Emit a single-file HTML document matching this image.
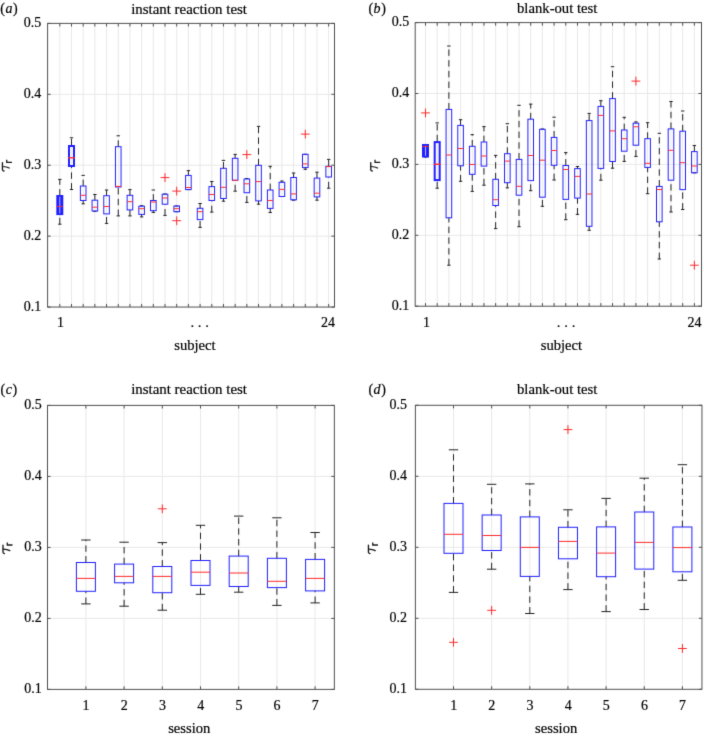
<!DOCTYPE html>
<html><head><meta charset="utf-8"><style>
html,body{margin:0;padding:0;background:#fff;width:704px;height:736px;overflow:hidden}
svg{display:block}
text{font-family:"Liberation Serif",serif;fill:#000;stroke:#000;stroke-width:0.2px;}
</style></head><body>
<svg width="704" height="736" viewBox="0 0 704 736">
<defs><filter id="bl" filterUnits="userSpaceOnUse" x="0" y="0" width="704" height="736" color-interpolation-filters="sRGB"><feConvolveMatrix order="3" kernelMatrix="0.01134 0.08382 0.01134 0.08382 0.61935 0.08382 0.01134 0.08382 0.01134" edgeMode="duplicate" preserveAlpha="true"/></filter></defs><g filter="url(#bl)">
<rect width="704" height="736" fill="#fff"/>
<g fill="none" stroke-width="1">
<line x1="59.8" y1="23.4" x2="59.8" y2="307.05" stroke="#e8e8e8"/>
<line x1="71.49" y1="23.4" x2="71.49" y2="307.05" stroke="#e8e8e8"/>
<line x1="83.18" y1="23.4" x2="83.18" y2="307.05" stroke="#e8e8e8"/>
<line x1="94.87" y1="23.4" x2="94.87" y2="307.05" stroke="#e8e8e8"/>
<line x1="106.56" y1="23.4" x2="106.56" y2="307.05" stroke="#e8e8e8"/>
<line x1="118.25" y1="23.4" x2="118.25" y2="307.05" stroke="#e8e8e8"/>
<line x1="129.94" y1="23.4" x2="129.94" y2="307.05" stroke="#e8e8e8"/>
<line x1="141.63" y1="23.4" x2="141.63" y2="307.05" stroke="#e8e8e8"/>
<line x1="153.32" y1="23.4" x2="153.32" y2="307.05" stroke="#e8e8e8"/>
<line x1="165.01" y1="23.4" x2="165.01" y2="307.05" stroke="#e8e8e8"/>
<line x1="176.7" y1="23.4" x2="176.7" y2="307.05" stroke="#e8e8e8"/>
<line x1="188.39" y1="23.4" x2="188.39" y2="307.05" stroke="#e8e8e8"/>
<line x1="200.08" y1="23.4" x2="200.08" y2="307.05" stroke="#e8e8e8"/>
<line x1="211.77" y1="23.4" x2="211.77" y2="307.05" stroke="#e8e8e8"/>
<line x1="223.46" y1="23.4" x2="223.46" y2="307.05" stroke="#e8e8e8"/>
<line x1="235.15" y1="23.4" x2="235.15" y2="307.05" stroke="#e8e8e8"/>
<line x1="246.84" y1="23.4" x2="246.84" y2="307.05" stroke="#e8e8e8"/>
<line x1="258.53" y1="23.4" x2="258.53" y2="307.05" stroke="#e8e8e8"/>
<line x1="270.22" y1="23.4" x2="270.22" y2="307.05" stroke="#e8e8e8"/>
<line x1="281.91" y1="23.4" x2="281.91" y2="307.05" stroke="#e8e8e8"/>
<line x1="293.6" y1="23.4" x2="293.6" y2="307.05" stroke="#e8e8e8"/>
<line x1="305.29" y1="23.4" x2="305.29" y2="307.05" stroke="#e8e8e8"/>
<line x1="316.98" y1="23.4" x2="316.98" y2="307.05" stroke="#e8e8e8"/>
<line x1="328.67" y1="23.4" x2="328.67" y2="307.05" stroke="#e8e8e8"/>
<line x1="47.6" y1="236.14" x2="334.5" y2="236.14" stroke="#e8e8e8"/>
<line x1="47.6" y1="165.23" x2="334.5" y2="165.23" stroke="#e8e8e8"/>
<line x1="47.6" y1="94.31" x2="334.5" y2="94.31" stroke="#e8e8e8"/>
<line x1="59.8" y1="195.5" x2="59.8" y2="179.4" stroke="#222" stroke-dasharray="6.4,4.3"/>
<line x1="59.8" y1="224.2" x2="59.8" y2="214.6" stroke="#222" stroke-dasharray="6.4,4.3"/>
<path d="M58.1 179.4H61.5M58.1 224.2H61.5" stroke="#222"/>
<rect x="56.3" y="195" width="7" height="20.1" fill="#2020ff" stroke="none"/>
<line x1="59.8" y1="196.7" x2="59.8" y2="213.4" stroke="#c4c4ff" stroke-width="0.9"/>
<line x1="57" y1="206.4" x2="62.6" y2="206.4" stroke="#ff2a2a"/>
<line x1="71.49" y1="145.1" x2="71.49" y2="137.8" stroke="#222" stroke-dasharray="6.4,4.3"/>
<line x1="71.49" y1="189.5" x2="71.49" y2="166.9" stroke="#222" stroke-dasharray="6.4,4.3"/>
<path d="M69.79 137.8H73.19M69.79 189.5H73.19" stroke="#222"/>
<rect x="68.99" y="146" width="5" height="20" fill="none" stroke="#2020ff" stroke-width="2"/>
<line x1="68.09" y1="157.8" x2="74.89" y2="157.8" stroke="#ff2a2a" stroke-width="1.4"/>
<line x1="83.18" y1="186" x2="83.18" y2="175.4" stroke="#222" stroke-dasharray="6.4,4.3"/>
<line x1="83.18" y1="203.8" x2="83.18" y2="200.5" stroke="#222" stroke-dasharray="6.4,4.3"/>
<path d="M81.48 175.4H84.88M81.48 203.8H84.88" stroke="#222"/>
<rect x="80.38" y="186" width="5.6" height="14.5" fill="none" stroke="#2020ff" stroke-width="1"/>
<line x1="80.38" y1="195.3" x2="85.98" y2="195.3" stroke="#ff2a2a"/>
<line x1="94.87" y1="200.2" x2="94.87" y2="194.5" stroke="#222" stroke-dasharray="6.4,4.3"/>
<path d="M93.17 194.5H96.57M93.17 211.4H96.57" stroke="#222"/>
<rect x="92.07" y="200.2" width="5.6" height="10.8" fill="none" stroke="#2020ff" stroke-width="1"/>
<line x1="92.07" y1="207.2" x2="97.67" y2="207.2" stroke="#ff2a2a"/>
<line x1="106.56" y1="195.7" x2="106.56" y2="190" stroke="#222" stroke-dasharray="6.4,4.3"/>
<line x1="106.56" y1="223.4" x2="106.56" y2="213.9" stroke="#222" stroke-dasharray="6.4,4.3"/>
<path d="M104.86 190H108.26M104.86 223.4H108.26" stroke="#222"/>
<rect x="103.76" y="195.7" width="5.6" height="18.2" fill="none" stroke="#2020ff" stroke-width="1"/>
<line x1="103.76" y1="206.5" x2="109.36" y2="206.5" stroke="#ff2a2a"/>
<line x1="118.25" y1="146.7" x2="118.25" y2="135.8" stroke="#222" stroke-dasharray="6.4,4.3"/>
<line x1="118.25" y1="215.9" x2="118.25" y2="187" stroke="#222" stroke-dasharray="6.4,4.3"/>
<path d="M116.55 135.8H119.95M116.55 215.9H119.95" stroke="#222"/>
<rect x="115.45" y="146.7" width="5.6" height="40.3" fill="none" stroke="#2020ff" stroke-width="1"/>
<line x1="115.45" y1="186.4" x2="121.05" y2="186.4" stroke="#ff2a2a"/>
<line x1="129.94" y1="195.3" x2="129.94" y2="189.6" stroke="#222" stroke-dasharray="6.4,4.3"/>
<line x1="129.94" y1="215.9" x2="129.94" y2="209.9" stroke="#222" stroke-dasharray="6.4,4.3"/>
<path d="M128.24 189.6H131.64M128.24 215.9H131.64" stroke="#222"/>
<rect x="127.14" y="195.3" width="5.6" height="14.6" fill="none" stroke="#2020ff" stroke-width="1"/>
<line x1="127.14" y1="201.7" x2="132.74" y2="201.7" stroke="#ff2a2a"/>
<line x1="141.63" y1="216.9" x2="141.63" y2="214.4" stroke="#222" stroke-dasharray="6.4,4.3"/>
<path d="M139.93 205.7H143.33M139.93 216.9H143.33" stroke="#222"/>
<rect x="138.83" y="206.2" width="5.6" height="8.2" fill="none" stroke="#2020ff" stroke-width="1"/>
<line x1="138.83" y1="208.7" x2="144.43" y2="208.7" stroke="#ff2a2a"/>
<line x1="153.32" y1="200.5" x2="153.32" y2="190" stroke="#222" stroke-dasharray="6.4,4.3"/>
<line x1="153.32" y1="212.4" x2="153.32" y2="210.7" stroke="#222" stroke-dasharray="6.4,4.3"/>
<path d="M151.62 190H155.02M151.62 212.4H155.02" stroke="#222"/>
<rect x="150.52" y="200.5" width="5.6" height="10.2" fill="none" stroke="#2020ff" stroke-width="1"/>
<line x1="150.52" y1="202" x2="156.12" y2="202" stroke="#ff2a2a"/>
<line x1="165.01" y1="215.4" x2="165.01" y2="204.2" stroke="#222" stroke-dasharray="6.4,4.3"/>
<path d="M163.31 194H166.71M163.31 215.4H166.71" stroke="#222"/>
<rect x="162.21" y="194.2" width="5.6" height="10" fill="none" stroke="#2020ff" stroke-width="1"/>
<line x1="162.21" y1="198" x2="167.81" y2="198" stroke="#ff2a2a"/>
<path d="M160.61 177.6H169.41M165.01 173.2V182" stroke="#ff2a2a"/>
<path d="M175 206H178.4M175 211.7H178.4" stroke="#222"/>
<rect x="173.9" y="206" width="5.6" height="5.7" fill="none" stroke="#2020ff" stroke-width="1"/>
<line x1="173.9" y1="208.7" x2="179.5" y2="208.7" stroke="#ff2a2a"/>
<path d="M172.3 191.1H181.1M176.7 186.7V195.5" stroke="#ff2a2a"/>
<path d="M172.3 220.7H181.1M176.7 216.3V225.1" stroke="#ff2a2a"/>
<line x1="188.39" y1="175.4" x2="188.39" y2="170.6" stroke="#222" stroke-dasharray="6.4,4.3"/>
<path d="M186.69 170.6H190.09M186.69 189.6H190.09" stroke="#222"/>
<rect x="185.59" y="175.4" width="5.6" height="14.2" fill="none" stroke="#2020ff" stroke-width="1"/>
<line x1="185.59" y1="187.5" x2="191.19" y2="187.5" stroke="#ff2a2a"/>
<line x1="200.08" y1="208.3" x2="200.08" y2="203.5" stroke="#222" stroke-dasharray="6.4,4.3"/>
<line x1="200.08" y1="227.4" x2="200.08" y2="219.6" stroke="#222" stroke-dasharray="6.4,4.3"/>
<path d="M198.38 203.5H201.78M198.38 227.4H201.78" stroke="#222"/>
<rect x="197.28" y="208.3" width="5.6" height="11.3" fill="none" stroke="#2020ff" stroke-width="1"/>
<line x1="197.28" y1="211.7" x2="202.88" y2="211.7" stroke="#ff2a2a"/>
<line x1="211.77" y1="186.6" x2="211.77" y2="181.5" stroke="#222" stroke-dasharray="6.4,4.3"/>
<line x1="211.77" y1="212.1" x2="211.77" y2="200.5" stroke="#222" stroke-dasharray="6.4,4.3"/>
<path d="M210.07 181.5H213.47M210.07 212.1H213.47" stroke="#222"/>
<rect x="208.97" y="186.6" width="5.6" height="13.9" fill="none" stroke="#2020ff" stroke-width="1"/>
<line x1="208.97" y1="194.5" x2="214.57" y2="194.5" stroke="#ff2a2a"/>
<line x1="223.46" y1="168.3" x2="223.46" y2="160.4" stroke="#222" stroke-dasharray="6.4,4.3"/>
<line x1="223.46" y1="201.2" x2="223.46" y2="198.5" stroke="#222" stroke-dasharray="6.4,4.3"/>
<path d="M221.76 160.4H225.16M221.76 201.2H225.16" stroke="#222"/>
<rect x="220.66" y="168.3" width="5.6" height="30.2" fill="none" stroke="#2020ff" stroke-width="1"/>
<line x1="220.66" y1="187.3" x2="226.26" y2="187.3" stroke="#ff2a2a"/>
<line x1="235.15" y1="158.3" x2="235.15" y2="154.4" stroke="#222" stroke-dasharray="6.4,4.3"/>
<line x1="235.15" y1="191.2" x2="235.15" y2="180.3" stroke="#222" stroke-dasharray="6.4,4.3"/>
<path d="M233.45 154.4H236.85M233.45 191.2H236.85" stroke="#222"/>
<rect x="232.35" y="158.3" width="5.6" height="22" fill="none" stroke="#2020ff" stroke-width="1"/>
<line x1="232.35" y1="180.3" x2="237.95" y2="180.3" stroke="#ff2a2a"/>
<line x1="246.84" y1="202.4" x2="246.84" y2="192.7" stroke="#222" stroke-dasharray="6.4,4.3"/>
<path d="M245.14 178.5H248.54M245.14 202.4H248.54" stroke="#222"/>
<rect x="244.04" y="179" width="5.6" height="13.7" fill="none" stroke="#2020ff" stroke-width="1"/>
<line x1="244.04" y1="183.8" x2="249.64" y2="183.8" stroke="#ff2a2a"/>
<path d="M242.44 154.6H251.24M246.84 150.2V159" stroke="#ff2a2a"/>
<line x1="258.53" y1="165.3" x2="258.53" y2="126.4" stroke="#222" stroke-dasharray="6.4,4.3"/>
<line x1="258.53" y1="204.2" x2="258.53" y2="200.9" stroke="#222" stroke-dasharray="6.4,4.3"/>
<path d="M256.83 126.4H260.23M256.83 204.2H260.23" stroke="#222"/>
<rect x="255.73" y="165.3" width="5.6" height="35.6" fill="none" stroke="#2020ff" stroke-width="1"/>
<line x1="255.73" y1="181.6" x2="261.33" y2="181.6" stroke="#ff2a2a"/>
<line x1="270.22" y1="190" x2="270.22" y2="166.3" stroke="#222" stroke-dasharray="6.4,4.3"/>
<line x1="270.22" y1="212.5" x2="270.22" y2="208.4" stroke="#222" stroke-dasharray="6.4,4.3"/>
<path d="M268.52 166.3H271.92M268.52 212.5H271.92" stroke="#222"/>
<rect x="267.42" y="190" width="5.6" height="18.4" fill="none" stroke="#2020ff" stroke-width="1"/>
<line x1="267.42" y1="200.5" x2="273.02" y2="200.5" stroke="#ff2a2a"/>
<line x1="281.91" y1="182.3" x2="281.91" y2="181" stroke="#222" stroke-dasharray="6.4,4.3"/>
<path d="M280.21 181H283.61M280.21 196.5H283.61" stroke="#222"/>
<rect x="279.11" y="182.3" width="5.6" height="14.2" fill="none" stroke="#2020ff" stroke-width="1"/>
<line x1="279.11" y1="189.4" x2="284.71" y2="189.4" stroke="#ff2a2a"/>
<line x1="293.6" y1="177.5" x2="293.6" y2="173" stroke="#222" stroke-dasharray="6.4,4.3"/>
<path d="M291.9 173H295.3M291.9 200.2H295.3" stroke="#222"/>
<rect x="290.8" y="177.5" width="5.6" height="22.3" fill="none" stroke="#2020ff" stroke-width="1"/>
<line x1="290.8" y1="193.9" x2="296.4" y2="193.9" stroke="#ff2a2a"/>
<line x1="305.29" y1="169.3" x2="305.29" y2="167.6" stroke="#222" stroke-dasharray="6.4,4.3"/>
<path d="M303.59 154.3H306.99M303.59 169.3H306.99" stroke="#222"/>
<rect x="302.49" y="154.3" width="5.6" height="13.3" fill="none" stroke="#2020ff" stroke-width="1"/>
<line x1="302.49" y1="163.9" x2="308.09" y2="163.9" stroke="#ff2a2a"/>
<path d="M300.89 134.1H309.69M305.29 129.7V138.5" stroke="#ff2a2a"/>
<line x1="316.98" y1="178.1" x2="316.98" y2="172.2" stroke="#222" stroke-dasharray="6.4,4.3"/>
<line x1="316.98" y1="200.2" x2="316.98" y2="196.9" stroke="#222" stroke-dasharray="6.4,4.3"/>
<path d="M315.28 172.2H318.68M315.28 200.2H318.68" stroke="#222"/>
<rect x="314.18" y="178.1" width="5.6" height="18.8" fill="none" stroke="#2020ff" stroke-width="1"/>
<line x1="314.18" y1="193.2" x2="319.78" y2="193.2" stroke="#ff2a2a"/>
<line x1="328.67" y1="166.3" x2="328.67" y2="159.4" stroke="#222" stroke-dasharray="6.4,4.3"/>
<line x1="328.67" y1="188.2" x2="328.67" y2="177" stroke="#222" stroke-dasharray="6.4,4.3"/>
<path d="M326.97 159.4H330.37M326.97 188.2H330.37" stroke="#222"/>
<rect x="325.87" y="166.3" width="5.6" height="10.7" fill="none" stroke="#2020ff" stroke-width="1"/>
<line x1="325.87" y1="166.6" x2="331.47" y2="166.6" stroke="#ff2a2a"/>
<rect x="47.6" y="23.4" width="286.9" height="283.65" fill="none" stroke="#505050"/>
<path d="M59.8 307.05V303.95M59.8 23.4V26.5M71.49 307.05V303.95M71.49 23.4V26.5M83.18 307.05V303.95M83.18 23.4V26.5M94.87 307.05V303.95M94.87 23.4V26.5M106.56 307.05V303.95M106.56 23.4V26.5M118.25 307.05V303.95M118.25 23.4V26.5M129.94 307.05V303.95M129.94 23.4V26.5M141.63 307.05V303.95M141.63 23.4V26.5M153.32 307.05V303.95M153.32 23.4V26.5M165.01 307.05V303.95M165.01 23.4V26.5M176.7 307.05V303.95M176.7 23.4V26.5M188.39 307.05V303.95M188.39 23.4V26.5M200.08 307.05V303.95M200.08 23.4V26.5M211.77 307.05V303.95M211.77 23.4V26.5M223.46 307.05V303.95M223.46 23.4V26.5M235.15 307.05V303.95M235.15 23.4V26.5M246.84 307.05V303.95M246.84 23.4V26.5M258.53 307.05V303.95M258.53 23.4V26.5M270.22 307.05V303.95M270.22 23.4V26.5M281.91 307.05V303.95M281.91 23.4V26.5M293.6 307.05V303.95M293.6 23.4V26.5M305.29 307.05V303.95M305.29 23.4V26.5M316.98 307.05V303.95M316.98 23.4V26.5M328.67 307.05V303.95M328.67 23.4V26.5M47.6 307.05H50.7M334.5 307.05H331.4M47.6 236.14H50.7M334.5 236.14H331.4M47.6 165.23H50.7M334.5 165.23H331.4M47.6 94.31H50.7M334.5 94.31H331.4M47.6 23.4H50.7M334.5 23.4H331.4" stroke="#505050" fill="none"/>
<line x1="425.5" y1="22.6" x2="425.5" y2="306.2" stroke="#e8e8e8"/>
<line x1="437.19" y1="22.6" x2="437.19" y2="306.2" stroke="#e8e8e8"/>
<line x1="448.88" y1="22.6" x2="448.88" y2="306.2" stroke="#e8e8e8"/>
<line x1="460.57" y1="22.6" x2="460.57" y2="306.2" stroke="#e8e8e8"/>
<line x1="472.26" y1="22.6" x2="472.26" y2="306.2" stroke="#e8e8e8"/>
<line x1="483.95" y1="22.6" x2="483.95" y2="306.2" stroke="#e8e8e8"/>
<line x1="495.64" y1="22.6" x2="495.64" y2="306.2" stroke="#e8e8e8"/>
<line x1="507.33" y1="22.6" x2="507.33" y2="306.2" stroke="#e8e8e8"/>
<line x1="519.02" y1="22.6" x2="519.02" y2="306.2" stroke="#e8e8e8"/>
<line x1="530.71" y1="22.6" x2="530.71" y2="306.2" stroke="#e8e8e8"/>
<line x1="542.4" y1="22.6" x2="542.4" y2="306.2" stroke="#e8e8e8"/>
<line x1="554.09" y1="22.6" x2="554.09" y2="306.2" stroke="#e8e8e8"/>
<line x1="565.78" y1="22.6" x2="565.78" y2="306.2" stroke="#e8e8e8"/>
<line x1="577.47" y1="22.6" x2="577.47" y2="306.2" stroke="#e8e8e8"/>
<line x1="589.16" y1="22.6" x2="589.16" y2="306.2" stroke="#e8e8e8"/>
<line x1="600.85" y1="22.6" x2="600.85" y2="306.2" stroke="#e8e8e8"/>
<line x1="612.54" y1="22.6" x2="612.54" y2="306.2" stroke="#e8e8e8"/>
<line x1="624.23" y1="22.6" x2="624.23" y2="306.2" stroke="#e8e8e8"/>
<line x1="635.92" y1="22.6" x2="635.92" y2="306.2" stroke="#e8e8e8"/>
<line x1="647.61" y1="22.6" x2="647.61" y2="306.2" stroke="#e8e8e8"/>
<line x1="659.3" y1="22.6" x2="659.3" y2="306.2" stroke="#e8e8e8"/>
<line x1="670.99" y1="22.6" x2="670.99" y2="306.2" stroke="#e8e8e8"/>
<line x1="682.68" y1="22.6" x2="682.68" y2="306.2" stroke="#e8e8e8"/>
<line x1="694.37" y1="22.6" x2="694.37" y2="306.2" stroke="#e8e8e8"/>
<line x1="415.2" y1="235.3" x2="701.5" y2="235.3" stroke="#e8e8e8"/>
<line x1="415.2" y1="164.4" x2="701.5" y2="164.4" stroke="#e8e8e8"/>
<line x1="415.2" y1="93.5" x2="701.5" y2="93.5" stroke="#e8e8e8"/>
<path d="M423.8 144.5H427.2M423.8 157H427.2" stroke="#222"/>
<rect x="422" y="144" width="7" height="13.5" fill="#2020ff" stroke="none"/>
<line x1="425.5" y1="145.7" x2="425.5" y2="155.8" stroke="#c4c4ff" stroke-width="0.9"/>
<line x1="422.7" y1="146.5" x2="428.3" y2="146.5" stroke="#ff2a2a"/>
<path d="M421.1 112.9H429.9M425.5 108.5V117.3" stroke="#ff2a2a"/>
<line x1="437.19" y1="141.2" x2="437.19" y2="122.9" stroke="#222" stroke-dasharray="6.4,4.3"/>
<line x1="437.19" y1="188.2" x2="437.19" y2="181" stroke="#222" stroke-dasharray="6.4,4.3"/>
<path d="M435.49 122.9H438.89M435.49 188.2H438.89" stroke="#222"/>
<rect x="434.69" y="142.1" width="5" height="38" fill="none" stroke="#2020ff" stroke-width="2"/>
<line x1="433.79" y1="164.3" x2="440.59" y2="164.3" stroke="#ff2a2a" stroke-width="1.4"/>
<line x1="448.88" y1="109.4" x2="448.88" y2="46" stroke="#222" stroke-dasharray="6.4,4.3"/>
<line x1="448.88" y1="265.2" x2="448.88" y2="217.8" stroke="#222" stroke-dasharray="6.4,4.3"/>
<path d="M447.18 46H450.58M447.18 265.2H450.58" stroke="#222"/>
<rect x="446.08" y="109.4" width="5.6" height="108.4" fill="none" stroke="#2020ff" stroke-width="1"/>
<line x1="446.08" y1="155" x2="451.68" y2="155" stroke="#ff2a2a"/>
<line x1="460.57" y1="125.4" x2="460.57" y2="119.7" stroke="#222" stroke-dasharray="6.4,4.3"/>
<line x1="460.57" y1="181.3" x2="460.57" y2="165.8" stroke="#222" stroke-dasharray="6.4,4.3"/>
<path d="M458.87 119.7H462.27M458.87 181.3H462.27" stroke="#222"/>
<rect x="457.77" y="125.4" width="5.6" height="40.4" fill="none" stroke="#2020ff" stroke-width="1"/>
<line x1="457.77" y1="148.5" x2="463.37" y2="148.5" stroke="#ff2a2a"/>
<line x1="472.26" y1="146.3" x2="472.26" y2="134.7" stroke="#222" stroke-dasharray="6.4,4.3"/>
<line x1="472.26" y1="191.4" x2="472.26" y2="174.3" stroke="#222" stroke-dasharray="6.4,4.3"/>
<path d="M470.56 134.7H473.96M470.56 191.4H473.96" stroke="#222"/>
<rect x="469.46" y="146.3" width="5.6" height="28" fill="none" stroke="#2020ff" stroke-width="1"/>
<line x1="469.46" y1="164.5" x2="475.06" y2="164.5" stroke="#ff2a2a"/>
<line x1="483.95" y1="142" x2="483.95" y2="126.6" stroke="#222" stroke-dasharray="6.4,4.3"/>
<line x1="483.95" y1="185.2" x2="483.95" y2="166.1" stroke="#222" stroke-dasharray="6.4,4.3"/>
<path d="M482.25 126.6H485.65M482.25 185.2H485.65" stroke="#222"/>
<rect x="481.15" y="142" width="5.6" height="24.1" fill="none" stroke="#2020ff" stroke-width="1"/>
<line x1="481.15" y1="156" x2="486.75" y2="156" stroke="#ff2a2a"/>
<line x1="495.64" y1="179.3" x2="495.64" y2="155.4" stroke="#222" stroke-dasharray="6.4,4.3"/>
<line x1="495.64" y1="228.6" x2="495.64" y2="205.5" stroke="#222" stroke-dasharray="6.4,4.3"/>
<path d="M493.94 155.4H497.34M493.94 228.6H497.34" stroke="#222"/>
<rect x="492.84" y="179.3" width="5.6" height="26.2" fill="none" stroke="#2020ff" stroke-width="1"/>
<line x1="492.84" y1="199.7" x2="498.44" y2="199.7" stroke="#ff2a2a"/>
<line x1="507.33" y1="153.7" x2="507.33" y2="123.7" stroke="#222" stroke-dasharray="6.4,4.3"/>
<line x1="507.33" y1="187.9" x2="507.33" y2="182.7" stroke="#222" stroke-dasharray="6.4,4.3"/>
<path d="M505.63 123.7H509.03M505.63 187.9H509.03" stroke="#222"/>
<rect x="504.53" y="153.7" width="5.6" height="29" fill="none" stroke="#2020ff" stroke-width="1"/>
<line x1="504.53" y1="161.1" x2="510.13" y2="161.1" stroke="#ff2a2a"/>
<line x1="519.02" y1="159.4" x2="519.02" y2="105.3" stroke="#222" stroke-dasharray="6.4,4.3"/>
<line x1="519.02" y1="226.7" x2="519.02" y2="195.2" stroke="#222" stroke-dasharray="6.4,4.3"/>
<path d="M517.32 105.3H520.72M517.32 226.7H520.72" stroke="#222"/>
<rect x="516.22" y="159.4" width="5.6" height="35.8" fill="none" stroke="#2020ff" stroke-width="1"/>
<line x1="516.22" y1="186.3" x2="521.82" y2="186.3" stroke="#ff2a2a"/>
<line x1="530.71" y1="119.2" x2="530.71" y2="104.1" stroke="#222" stroke-dasharray="6.4,4.3"/>
<line x1="530.71" y1="190.7" x2="530.71" y2="180.6" stroke="#222" stroke-dasharray="6.4,4.3"/>
<path d="M529.01 104.1H532.41M529.01 190.7H532.41" stroke="#222"/>
<rect x="527.91" y="119.2" width="5.6" height="61.4" fill="none" stroke="#2020ff" stroke-width="1"/>
<line x1="527.91" y1="155.5" x2="533.51" y2="155.5" stroke="#ff2a2a"/>
<line x1="542.4" y1="206.3" x2="542.4" y2="197.2" stroke="#222" stroke-dasharray="6.4,4.3"/>
<path d="M540.7 129H544.1M540.7 206.3H544.1" stroke="#222"/>
<rect x="539.6" y="129.3" width="5.6" height="67.9" fill="none" stroke="#2020ff" stroke-width="1"/>
<line x1="539.6" y1="160.2" x2="545.2" y2="160.2" stroke="#ff2a2a"/>
<line x1="554.09" y1="137.4" x2="554.09" y2="117.2" stroke="#222" stroke-dasharray="6.4,4.3"/>
<line x1="554.09" y1="180" x2="554.09" y2="165.3" stroke="#222" stroke-dasharray="6.4,4.3"/>
<path d="M552.39 117.2H555.79M552.39 180H555.79" stroke="#222"/>
<rect x="551.29" y="137.4" width="5.6" height="27.9" fill="none" stroke="#2020ff" stroke-width="1"/>
<line x1="551.29" y1="150.5" x2="556.89" y2="150.5" stroke="#ff2a2a"/>
<line x1="565.78" y1="165.5" x2="565.78" y2="152.6" stroke="#222" stroke-dasharray="6.4,4.3"/>
<line x1="565.78" y1="219.7" x2="565.78" y2="199.4" stroke="#222" stroke-dasharray="6.4,4.3"/>
<path d="M564.08 152.6H567.48M564.08 219.7H567.48" stroke="#222"/>
<rect x="562.98" y="165.5" width="5.6" height="33.9" fill="none" stroke="#2020ff" stroke-width="1"/>
<line x1="562.98" y1="169.5" x2="568.58" y2="169.5" stroke="#ff2a2a"/>
<line x1="577.47" y1="168.6" x2="577.47" y2="166.5" stroke="#222" stroke-dasharray="6.4,4.3"/>
<line x1="577.47" y1="214.4" x2="577.47" y2="198.1" stroke="#222" stroke-dasharray="6.4,4.3"/>
<path d="M575.77 166.5H579.17M575.77 214.4H579.17" stroke="#222"/>
<rect x="574.67" y="168.6" width="5.6" height="29.5" fill="none" stroke="#2020ff" stroke-width="1"/>
<line x1="574.67" y1="176.4" x2="580.27" y2="176.4" stroke="#ff2a2a"/>
<line x1="589.16" y1="120.6" x2="589.16" y2="113.4" stroke="#222" stroke-dasharray="6.4,4.3"/>
<line x1="589.16" y1="230.3" x2="589.16" y2="226.3" stroke="#222" stroke-dasharray="6.4,4.3"/>
<path d="M587.46 113.4H590.86M587.46 230.3H590.86" stroke="#222"/>
<rect x="586.36" y="120.6" width="5.6" height="105.7" fill="none" stroke="#2020ff" stroke-width="1"/>
<line x1="586.36" y1="194" x2="591.96" y2="194" stroke="#ff2a2a"/>
<line x1="600.85" y1="106.4" x2="600.85" y2="100.7" stroke="#222" stroke-dasharray="6.4,4.3"/>
<line x1="600.85" y1="180.2" x2="600.85" y2="168.4" stroke="#222" stroke-dasharray="6.4,4.3"/>
<path d="M599.15 100.7H602.55M599.15 180.2H602.55" stroke="#222"/>
<rect x="598.05" y="106.4" width="5.6" height="62" fill="none" stroke="#2020ff" stroke-width="1"/>
<line x1="598.05" y1="115.4" x2="603.65" y2="115.4" stroke="#ff2a2a"/>
<line x1="612.54" y1="98.6" x2="612.54" y2="66.7" stroke="#222" stroke-dasharray="6.4,4.3"/>
<line x1="612.54" y1="168.2" x2="612.54" y2="161.5" stroke="#222" stroke-dasharray="6.4,4.3"/>
<path d="M610.84 66.7H614.24M610.84 168.2H614.24" stroke="#222"/>
<rect x="609.74" y="98.6" width="5.6" height="62.9" fill="none" stroke="#2020ff" stroke-width="1"/>
<line x1="609.74" y1="130.9" x2="615.34" y2="130.9" stroke="#ff2a2a"/>
<line x1="624.23" y1="130" x2="624.23" y2="117.3" stroke="#222" stroke-dasharray="6.4,4.3"/>
<line x1="624.23" y1="161.4" x2="624.23" y2="151.2" stroke="#222" stroke-dasharray="6.4,4.3"/>
<path d="M622.53 117.3H625.93M622.53 161.4H625.93" stroke="#222"/>
<rect x="621.43" y="130" width="5.6" height="21.2" fill="none" stroke="#2020ff" stroke-width="1"/>
<line x1="621.43" y1="138.7" x2="627.03" y2="138.7" stroke="#ff2a2a"/>
<line x1="635.92" y1="123.2" x2="635.92" y2="121.9" stroke="#222" stroke-dasharray="6.4,4.3"/>
<line x1="635.92" y1="156.4" x2="635.92" y2="145.2" stroke="#222" stroke-dasharray="6.4,4.3"/>
<path d="M634.22 121.9H637.62M634.22 156.4H637.62" stroke="#222"/>
<rect x="633.12" y="123.2" width="5.6" height="22" fill="none" stroke="#2020ff" stroke-width="1"/>
<line x1="633.12" y1="126.8" x2="638.72" y2="126.8" stroke="#ff2a2a"/>
<path d="M631.52 81.1H640.32M635.92 76.7V85.5" stroke="#ff2a2a"/>
<line x1="647.61" y1="138.7" x2="647.61" y2="122.7" stroke="#222" stroke-dasharray="6.4,4.3"/>
<line x1="647.61" y1="193.7" x2="647.61" y2="167.4" stroke="#222" stroke-dasharray="6.4,4.3"/>
<path d="M645.91 122.7H649.31M645.91 193.7H649.31" stroke="#222"/>
<rect x="644.81" y="138.7" width="5.6" height="28.7" fill="none" stroke="#2020ff" stroke-width="1"/>
<line x1="644.81" y1="163.3" x2="650.41" y2="163.3" stroke="#ff2a2a"/>
<line x1="659.3" y1="186.4" x2="659.3" y2="133.3" stroke="#222" stroke-dasharray="6.4,4.3"/>
<line x1="659.3" y1="259" x2="659.3" y2="221.8" stroke="#222" stroke-dasharray="6.4,4.3"/>
<path d="M657.6 133.3H661M657.6 259H661" stroke="#222"/>
<rect x="656.5" y="186.4" width="5.6" height="35.4" fill="none" stroke="#2020ff" stroke-width="1"/>
<line x1="656.5" y1="189.5" x2="662.1" y2="189.5" stroke="#ff2a2a"/>
<line x1="670.99" y1="128.9" x2="670.99" y2="101.5" stroke="#222" stroke-dasharray="6.4,4.3"/>
<line x1="670.99" y1="212" x2="670.99" y2="180.2" stroke="#222" stroke-dasharray="6.4,4.3"/>
<path d="M669.29 101.5H672.69M669.29 212H672.69" stroke="#222"/>
<rect x="668.19" y="128.9" width="5.6" height="51.3" fill="none" stroke="#2020ff" stroke-width="1"/>
<line x1="668.19" y1="150.3" x2="673.79" y2="150.3" stroke="#ff2a2a"/>
<line x1="682.68" y1="131.2" x2="682.68" y2="111" stroke="#222" stroke-dasharray="6.4,4.3"/>
<line x1="682.68" y1="209.5" x2="682.68" y2="189.6" stroke="#222" stroke-dasharray="6.4,4.3"/>
<path d="M680.98 111H684.38M680.98 209.5H684.38" stroke="#222"/>
<rect x="679.88" y="131.2" width="5.6" height="58.4" fill="none" stroke="#2020ff" stroke-width="1"/>
<line x1="679.88" y1="162.7" x2="685.48" y2="162.7" stroke="#ff2a2a"/>
<line x1="694.37" y1="151.6" x2="694.37" y2="145.5" stroke="#222" stroke-dasharray="6.4,4.3"/>
<path d="M692.67 145.5H696.07M692.67 172.8H696.07" stroke="#222"/>
<rect x="691.57" y="151.6" width="5.6" height="21.2" fill="none" stroke="#2020ff" stroke-width="1"/>
<line x1="691.57" y1="166" x2="697.17" y2="166" stroke="#ff2a2a"/>
<path d="M689.97 265.2H698.77M694.37 260.8V269.6" stroke="#ff2a2a"/>
<rect x="415.2" y="22.6" width="286.3" height="283.6" fill="none" stroke="#505050"/>
<path d="M425.5 306.2V303.1M425.5 22.6V25.7M437.19 306.2V303.1M437.19 22.6V25.7M448.88 306.2V303.1M448.88 22.6V25.7M460.57 306.2V303.1M460.57 22.6V25.7M472.26 306.2V303.1M472.26 22.6V25.7M483.95 306.2V303.1M483.95 22.6V25.7M495.64 306.2V303.1M495.64 22.6V25.7M507.33 306.2V303.1M507.33 22.6V25.7M519.02 306.2V303.1M519.02 22.6V25.7M530.71 306.2V303.1M530.71 22.6V25.7M542.4 306.2V303.1M542.4 22.6V25.7M554.09 306.2V303.1M554.09 22.6V25.7M565.78 306.2V303.1M565.78 22.6V25.7M577.47 306.2V303.1M577.47 22.6V25.7M589.16 306.2V303.1M589.16 22.6V25.7M600.85 306.2V303.1M600.85 22.6V25.7M612.54 306.2V303.1M612.54 22.6V25.7M624.23 306.2V303.1M624.23 22.6V25.7M635.92 306.2V303.1M635.92 22.6V25.7M647.61 306.2V303.1M647.61 22.6V25.7M659.3 306.2V303.1M659.3 22.6V25.7M670.99 306.2V303.1M670.99 22.6V25.7M682.68 306.2V303.1M682.68 22.6V25.7M694.37 306.2V303.1M694.37 22.6V25.7M415.2 306.2H418.3M701.5 306.2H698.4M415.2 235.3H418.3M701.5 235.3H698.4M415.2 164.4H418.3M701.5 164.4H698.4M415.2 93.5H418.3M701.5 93.5H698.4M415.2 22.6H418.3M701.5 22.6H698.4" stroke="#505050" fill="none"/>
<line x1="85.9" y1="405.4" x2="85.9" y2="689.4" stroke="#e8e8e8"/>
<line x1="124.1" y1="405.4" x2="124.1" y2="689.4" stroke="#e8e8e8"/>
<line x1="162.3" y1="405.4" x2="162.3" y2="689.4" stroke="#e8e8e8"/>
<line x1="200.5" y1="405.4" x2="200.5" y2="689.4" stroke="#e8e8e8"/>
<line x1="238.7" y1="405.4" x2="238.7" y2="689.4" stroke="#e8e8e8"/>
<line x1="276.9" y1="405.4" x2="276.9" y2="689.4" stroke="#e8e8e8"/>
<line x1="315.1" y1="405.4" x2="315.1" y2="689.4" stroke="#e8e8e8"/>
<line x1="47.5" y1="618.4" x2="334.35" y2="618.4" stroke="#e8e8e8"/>
<line x1="47.5" y1="547.4" x2="334.35" y2="547.4" stroke="#e8e8e8"/>
<line x1="47.5" y1="476.4" x2="334.35" y2="476.4" stroke="#e8e8e8"/>
<line x1="85.9" y1="562.5" x2="85.9" y2="540" stroke="#222" stroke-dasharray="6.4,4.3"/>
<line x1="85.9" y1="603.9" x2="85.9" y2="591.3" stroke="#222" stroke-dasharray="6.4,4.3"/>
<path d="M81.2 540H90.6M81.2 603.9H90.6" stroke="#222"/>
<rect x="76.4" y="562.5" width="19" height="28.8" fill="none" stroke="#2020ff" stroke-width="1"/>
<line x1="76.4" y1="578.4" x2="95.4" y2="578.4" stroke="#ff2a2a"/>
<line x1="124.1" y1="564.1" x2="124.1" y2="542.2" stroke="#222" stroke-dasharray="6.4,4.3"/>
<line x1="124.1" y1="606.2" x2="124.1" y2="582.8" stroke="#222" stroke-dasharray="6.4,4.3"/>
<path d="M119.4 542.2H128.8M119.4 606.2H128.8" stroke="#222"/>
<rect x="114.6" y="564.1" width="19" height="18.7" fill="none" stroke="#2020ff" stroke-width="1"/>
<line x1="114.6" y1="576.4" x2="133.6" y2="576.4" stroke="#ff2a2a"/>
<line x1="162.3" y1="566.5" x2="162.3" y2="542.6" stroke="#222" stroke-dasharray="6.4,4.3"/>
<line x1="162.3" y1="610.2" x2="162.3" y2="592.7" stroke="#222" stroke-dasharray="6.4,4.3"/>
<path d="M157.6 542.6H167M157.6 610.2H167" stroke="#222"/>
<rect x="152.8" y="566.5" width="19" height="26.2" fill="none" stroke="#2020ff" stroke-width="1"/>
<line x1="152.8" y1="576.4" x2="171.8" y2="576.4" stroke="#ff2a2a"/>
<path d="M157.9 508.8H166.7M162.3 504.4V513.2" stroke="#ff2a2a"/>
<line x1="200.5" y1="560.5" x2="200.5" y2="525.3" stroke="#222" stroke-dasharray="6.4,4.3"/>
<line x1="200.5" y1="594.3" x2="200.5" y2="585.4" stroke="#222" stroke-dasharray="6.4,4.3"/>
<path d="M195.8 525.3H205.2M195.8 594.3H205.2" stroke="#222"/>
<rect x="191" y="560.5" width="19" height="24.9" fill="none" stroke="#2020ff" stroke-width="1"/>
<line x1="191" y1="572.2" x2="210" y2="572.2" stroke="#ff2a2a"/>
<line x1="238.7" y1="556.1" x2="238.7" y2="516.1" stroke="#222" stroke-dasharray="6.4,4.3"/>
<line x1="238.7" y1="592.2" x2="238.7" y2="586.5" stroke="#222" stroke-dasharray="6.4,4.3"/>
<path d="M234 516.1H243.4M234 592.2H243.4" stroke="#222"/>
<rect x="229.2" y="556.1" width="19" height="30.4" fill="none" stroke="#2020ff" stroke-width="1"/>
<line x1="229.2" y1="573" x2="248.2" y2="573" stroke="#ff2a2a"/>
<line x1="276.9" y1="558.3" x2="276.9" y2="517.8" stroke="#222" stroke-dasharray="6.4,4.3"/>
<line x1="276.9" y1="605.4" x2="276.9" y2="587.6" stroke="#222" stroke-dasharray="6.4,4.3"/>
<path d="M272.2 517.8H281.6M272.2 605.4H281.6" stroke="#222"/>
<rect x="267.4" y="558.3" width="19" height="29.3" fill="none" stroke="#2020ff" stroke-width="1"/>
<line x1="267.4" y1="581.3" x2="286.4" y2="581.3" stroke="#ff2a2a"/>
<line x1="315.1" y1="559.4" x2="315.1" y2="532.5" stroke="#222" stroke-dasharray="6.4,4.3"/>
<line x1="315.1" y1="602.9" x2="315.1" y2="590.9" stroke="#222" stroke-dasharray="6.4,4.3"/>
<path d="M310.4 532.5H319.8M310.4 602.9H319.8" stroke="#222"/>
<rect x="305.6" y="559.4" width="19" height="31.5" fill="none" stroke="#2020ff" stroke-width="1"/>
<line x1="305.6" y1="578.4" x2="324.6" y2="578.4" stroke="#ff2a2a"/>
<rect x="47.5" y="405.4" width="286.85" height="284" fill="none" stroke="#505050"/>
<path d="M85.9 689.4V686.3M85.9 405.4V408.5M124.1 689.4V686.3M124.1 405.4V408.5M162.3 689.4V686.3M162.3 405.4V408.5M200.5 689.4V686.3M200.5 405.4V408.5M238.7 689.4V686.3M238.7 405.4V408.5M276.9 689.4V686.3M276.9 405.4V408.5M315.1 689.4V686.3M315.1 405.4V408.5M47.5 689.4H50.6M334.35 689.4H331.25M47.5 618.4H50.6M334.35 618.4H331.25M47.5 547.4H50.6M334.35 547.4H331.25M47.5 476.4H50.6M334.35 476.4H331.25M47.5 405.4H50.6M334.35 405.4H331.25" stroke="#505050" fill="none"/>
<line x1="453.5" y1="405.3" x2="453.5" y2="689.3" stroke="#e8e8e8"/>
<line x1="491.65" y1="405.3" x2="491.65" y2="689.3" stroke="#e8e8e8"/>
<line x1="529.8" y1="405.3" x2="529.8" y2="689.3" stroke="#e8e8e8"/>
<line x1="567.95" y1="405.3" x2="567.95" y2="689.3" stroke="#e8e8e8"/>
<line x1="606.1" y1="405.3" x2="606.1" y2="689.3" stroke="#e8e8e8"/>
<line x1="644.25" y1="405.3" x2="644.25" y2="689.3" stroke="#e8e8e8"/>
<line x1="682.4" y1="405.3" x2="682.4" y2="689.3" stroke="#e8e8e8"/>
<line x1="415.4" y1="618.3" x2="701.95" y2="618.3" stroke="#e8e8e8"/>
<line x1="415.4" y1="547.3" x2="701.95" y2="547.3" stroke="#e8e8e8"/>
<line x1="415.4" y1="476.3" x2="701.95" y2="476.3" stroke="#e8e8e8"/>
<line x1="453.5" y1="503.4" x2="453.5" y2="449.8" stroke="#222" stroke-dasharray="6.4,4.3"/>
<line x1="453.5" y1="592.4" x2="453.5" y2="553.3" stroke="#222" stroke-dasharray="6.4,4.3"/>
<path d="M448.8 449.8H458.2M448.8 592.4H458.2" stroke="#222"/>
<rect x="444" y="503.4" width="19" height="49.9" fill="none" stroke="#2020ff" stroke-width="1"/>
<line x1="444" y1="534.3" x2="463" y2="534.3" stroke="#ff2a2a"/>
<path d="M449.1 642.3H457.9M453.5 637.9V646.7" stroke="#ff2a2a"/>
<line x1="491.65" y1="515" x2="491.65" y2="484.3" stroke="#222" stroke-dasharray="6.4,4.3"/>
<line x1="491.65" y1="569.2" x2="491.65" y2="550.5" stroke="#222" stroke-dasharray="6.4,4.3"/>
<path d="M486.95 484.3H496.35M486.95 569.2H496.35" stroke="#222"/>
<rect x="482.15" y="515" width="19" height="35.5" fill="none" stroke="#2020ff" stroke-width="1"/>
<line x1="482.15" y1="535.5" x2="501.15" y2="535.5" stroke="#ff2a2a"/>
<path d="M487.25 610.3H496.05M491.65 605.9V614.7" stroke="#ff2a2a"/>
<line x1="529.8" y1="516.9" x2="529.8" y2="483.9" stroke="#222" stroke-dasharray="6.4,4.3"/>
<line x1="529.8" y1="613.5" x2="529.8" y2="576.4" stroke="#222" stroke-dasharray="6.4,4.3"/>
<path d="M525.1 483.9H534.5M525.1 613.5H534.5" stroke="#222"/>
<rect x="520.3" y="516.9" width="19" height="59.5" fill="none" stroke="#2020ff" stroke-width="1"/>
<line x1="520.3" y1="547.4" x2="539.3" y2="547.4" stroke="#ff2a2a"/>
<line x1="567.95" y1="527.3" x2="567.95" y2="509.8" stroke="#222" stroke-dasharray="6.4,4.3"/>
<line x1="567.95" y1="589.6" x2="567.95" y2="558.8" stroke="#222" stroke-dasharray="6.4,4.3"/>
<path d="M563.25 509.8H572.65M563.25 589.6H572.65" stroke="#222"/>
<rect x="558.45" y="527.3" width="19" height="31.5" fill="none" stroke="#2020ff" stroke-width="1"/>
<line x1="558.45" y1="541.4" x2="577.45" y2="541.4" stroke="#ff2a2a"/>
<path d="M563.55 429.6H572.35M567.95 425.2V434" stroke="#ff2a2a"/>
<line x1="606.1" y1="526.9" x2="606.1" y2="498.4" stroke="#222" stroke-dasharray="6.4,4.3"/>
<line x1="606.1" y1="611.6" x2="606.1" y2="576.7" stroke="#222" stroke-dasharray="6.4,4.3"/>
<path d="M601.4 498.4H610.8M601.4 611.6H610.8" stroke="#222"/>
<rect x="596.6" y="526.9" width="19" height="49.8" fill="none" stroke="#2020ff" stroke-width="1"/>
<line x1="596.6" y1="553.1" x2="615.6" y2="553.1" stroke="#ff2a2a"/>
<line x1="644.25" y1="512" x2="644.25" y2="478.2" stroke="#222" stroke-dasharray="6.4,4.3"/>
<line x1="644.25" y1="609.5" x2="644.25" y2="569.1" stroke="#222" stroke-dasharray="6.4,4.3"/>
<path d="M639.55 478.2H648.95M639.55 609.5H648.95" stroke="#222"/>
<rect x="634.75" y="512" width="19" height="57.1" fill="none" stroke="#2020ff" stroke-width="1"/>
<line x1="634.75" y1="542.4" x2="653.75" y2="542.4" stroke="#ff2a2a"/>
<line x1="682.4" y1="527" x2="682.4" y2="464.7" stroke="#222" stroke-dasharray="6.4,4.3"/>
<line x1="682.4" y1="580.3" x2="682.4" y2="571.8" stroke="#222" stroke-dasharray="6.4,4.3"/>
<path d="M677.7 464.7H687.1M677.7 580.3H687.1" stroke="#222"/>
<rect x="672.9" y="527" width="19" height="44.8" fill="none" stroke="#2020ff" stroke-width="1"/>
<line x1="672.9" y1="547.6" x2="691.9" y2="547.6" stroke="#ff2a2a"/>
<path d="M678 648.5H686.8M682.4 644.1V652.9" stroke="#ff2a2a"/>
<rect x="415.4" y="405.3" width="286.55" height="284" fill="none" stroke="#505050"/>
<path d="M453.5 689.3V686.2M453.5 405.3V408.4M491.65 689.3V686.2M491.65 405.3V408.4M529.8 689.3V686.2M529.8 405.3V408.4M567.95 689.3V686.2M567.95 405.3V408.4M606.1 689.3V686.2M606.1 405.3V408.4M644.25 689.3V686.2M644.25 405.3V408.4M682.4 689.3V686.2M682.4 405.3V408.4M415.4 689.3H418.5M701.95 689.3H698.85M415.4 618.3H418.5M701.95 618.3H698.85M415.4 547.3H418.5M701.95 547.3H698.85M415.4 476.3H418.5M701.95 476.3H698.85M415.4 405.3H418.5M701.95 405.3H698.85" stroke="#505050" fill="none"/>
</g>
<g>
<text transform="translate(41.2 310.75) scale(0.915 1)" text-anchor="end" font-size="15.3">0.1</text>
<text transform="translate(41.2 239.84) scale(0.915 1)" text-anchor="end" font-size="15.3">0.2</text>
<text transform="translate(41.2 168.93) scale(0.915 1)" text-anchor="end" font-size="15.3">0.3</text>
<text transform="translate(41.2 98.01) scale(0.915 1)" text-anchor="end" font-size="15.3">0.4</text>
<text transform="translate(41.2 27.1) scale(0.915 1)" text-anchor="end" font-size="15.3">0.5</text>
<text transform="translate(409.3 309.9) scale(0.915 1)" text-anchor="end" font-size="15.3">0.1</text>
<text transform="translate(409.3 239) scale(0.915 1)" text-anchor="end" font-size="15.3">0.2</text>
<text transform="translate(409.3 168.1) scale(0.915 1)" text-anchor="end" font-size="15.3">0.3</text>
<text transform="translate(409.3 97.2) scale(0.915 1)" text-anchor="end" font-size="15.3">0.4</text>
<text transform="translate(409.3 26.3) scale(0.915 1)" text-anchor="end" font-size="15.3">0.5</text>
<text transform="translate(41.8 693.1) scale(0.915 1)" text-anchor="end" font-size="15.3">0.1</text>
<text transform="translate(41.8 622.1) scale(0.915 1)" text-anchor="end" font-size="15.3">0.2</text>
<text transform="translate(41.8 551.1) scale(0.915 1)" text-anchor="end" font-size="15.3">0.3</text>
<text transform="translate(41.8 480.1) scale(0.915 1)" text-anchor="end" font-size="15.3">0.4</text>
<text transform="translate(41.8 409.1) scale(0.915 1)" text-anchor="end" font-size="15.3">0.5</text>
<text transform="translate(407 693) scale(0.915 1)" text-anchor="end" font-size="15.3">0.1</text>
<text transform="translate(407 622) scale(0.915 1)" text-anchor="end" font-size="15.3">0.2</text>
<text transform="translate(407 551) scale(0.915 1)" text-anchor="end" font-size="15.3">0.3</text>
<text transform="translate(407 480) scale(0.915 1)" text-anchor="end" font-size="15.3">0.4</text>
<text transform="translate(407 409) scale(0.915 1)" text-anchor="end" font-size="15.3">0.5</text>
<text x="131.2" y="13.8" text-anchor="start" font-size="14.9">instant reaction test</text>
<text x="517" y="12.6" text-anchor="start" font-size="14.7">blank-out test</text>
<text x="131.2" y="393.6" text-anchor="start" font-size="14.9">instant reaction test</text>
<text x="517" y="393.5" text-anchor="start" font-size="14.7">blank-out test</text>
<text x="0.3" y="12.8" font-size="14">(<tspan dx="0.5" font-style="italic">a</tspan><tspan dx="0.6">)</tspan></text>
<text x="368.4" y="12.8" font-size="14">(<tspan dx="0.5" font-style="italic">b</tspan><tspan dx="0.6">)</tspan></text>
<text x="0.5" y="394" font-size="14">(<tspan dx="0.5" font-style="italic">c</tspan><tspan dx="0.6">)</tspan></text>
<text x="368.4" y="394" font-size="14">(<tspan dx="0.5" font-style="italic">d</tspan><tspan dx="0.6">)</tspan></text>
<text transform="translate(60.4 326.7) scale(0.915 1)" text-anchor="middle" font-size="15.3">1</text>
<text transform="translate(328.1 326.9) scale(0.915 1)" text-anchor="middle" font-size="15.3">24</text>
<text transform="translate(426.4 326.8) scale(0.915 1)" text-anchor="middle" font-size="15.3">1</text>
<text transform="translate(694.4 326.8) scale(0.915 1)" text-anchor="middle" font-size="15.3">24</text>
<text x="199.7" y="327.4" text-anchor="middle" font-size="14.8">. . .</text>
<text x="566.1" y="327.4" text-anchor="middle" font-size="14.8">. . .</text>
<text transform="translate(86.1 710.1) scale(0.915 1)" text-anchor="middle" font-size="15.3">1</text>
<text transform="translate(124.3 710.1) scale(0.915 1)" text-anchor="middle" font-size="15.3">2</text>
<text transform="translate(162.5 710.1) scale(0.915 1)" text-anchor="middle" font-size="15.3">3</text>
<text transform="translate(200.7 710.1) scale(0.915 1)" text-anchor="middle" font-size="15.3">4</text>
<text transform="translate(238.9 710.1) scale(0.915 1)" text-anchor="middle" font-size="15.3">5</text>
<text transform="translate(277.1 710.1) scale(0.915 1)" text-anchor="middle" font-size="15.3">6</text>
<text transform="translate(315.3 710.1) scale(0.915 1)" text-anchor="middle" font-size="15.3">7</text>
<text transform="translate(453.7 710.1) scale(0.915 1)" text-anchor="middle" font-size="15.3">1</text>
<text transform="translate(491.85 710.1) scale(0.915 1)" text-anchor="middle" font-size="15.3">2</text>
<text transform="translate(530 710.1) scale(0.915 1)" text-anchor="middle" font-size="15.3">3</text>
<text transform="translate(568.15 710.1) scale(0.915 1)" text-anchor="middle" font-size="15.3">4</text>
<text transform="translate(606.3 710.1) scale(0.915 1)" text-anchor="middle" font-size="15.3">5</text>
<text transform="translate(644.45 710.1) scale(0.915 1)" text-anchor="middle" font-size="15.3">6</text>
<text transform="translate(682.6 710.1) scale(0.915 1)" text-anchor="middle" font-size="15.3">7</text>
<text x="174.3" y="349.5" text-anchor="start" font-size="14.6">subject</text>
<text x="540.8" y="349.5" text-anchor="start" font-size="14.6">subject</text>
<text x="168.2" y="732.6" text-anchor="start" font-size="14.6">session</text>
<text x="535.1" y="732.5" text-anchor="start" font-size="14.6">session</text>
<g transform="translate(-0.55 -382.6)" fill="none" stroke="#1a1a1a" stroke-linecap="round"><path d="M3 545.2V552.4Q3.2 553.2 4.5 553.6" stroke-width="1.35"/><path d="M3.1 549.1C5.5 549.2 8 549.6 9.8 550.6" stroke-width="1.25"/><path d="M7.3 542.4V545H12.5" stroke-width="1.3" stroke-linecap="butt"/></g>
<g transform="translate(367.75 -382.6)" fill="none" stroke="#1a1a1a" stroke-linecap="round"><path d="M3 545.2V552.4Q3.2 553.2 4.5 553.6" stroke-width="1.35"/><path d="M3.1 549.1C5.5 549.2 8 549.6 9.8 550.6" stroke-width="1.25"/><path d="M7.3 542.4V545H12.5" stroke-width="1.3" stroke-linecap="butt"/></g>
<g transform="translate(0 0)" fill="none" stroke="#1a1a1a" stroke-linecap="round"><path d="M3 545.2V552.4Q3.2 553.2 4.5 553.6" stroke-width="1.35"/><path d="M3.1 549.1C5.5 549.2 8 549.6 9.8 550.6" stroke-width="1.25"/><path d="M7.3 542.4V545H12.5" stroke-width="1.3" stroke-linecap="butt"/></g>
<g transform="translate(365.45 0)" fill="none" stroke="#1a1a1a" stroke-linecap="round"><path d="M3 545.2V552.4Q3.2 553.2 4.5 553.6" stroke-width="1.35"/><path d="M3.1 549.1C5.5 549.2 8 549.6 9.8 550.6" stroke-width="1.25"/><path d="M7.3 542.4V545H12.5" stroke-width="1.3" stroke-linecap="butt"/></g>
</g>
</g>
</svg></body></html>
